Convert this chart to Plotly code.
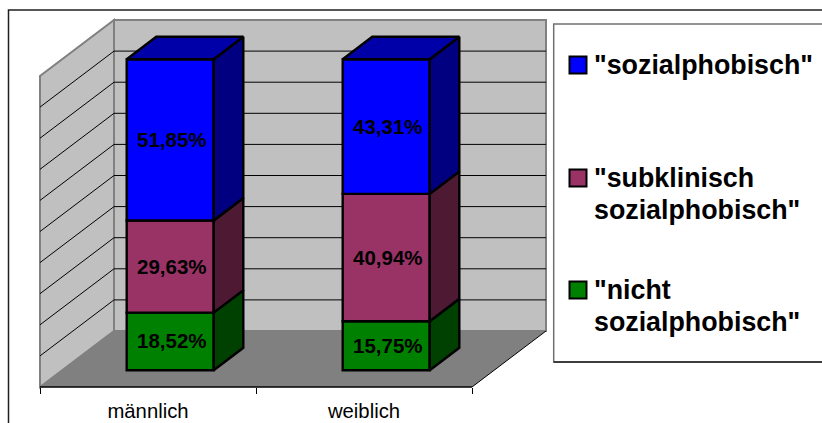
import plotly.graph_objects as go

# Survey shares per gender, stacked bottom to top
categories = ["männlich", "weiblich"]
nicht = [18.52, 15.75]
subklinisch = [29.63, 40.94]
sozial = [51.85, 43.31]

series_values = [nicht, subklinisch, sozial]
front_colors = ["#008000", "#993366", "#0000FF"]
side_colors = ["#004000", "#4D1933", "#000080"]
top_color = "#0000A8"

legend_colors = ["#0000FF", "#993366", "#008000"]
legend_lines = [['"sozialphobisch"'],
                ['"subklinisch', 'sozialphobisch"'],
                ['"nicht', 'sozialphobisch"']]

W, H = 822, 423
# Pixel size of one category and one percent, and position of the front floor corner
CAT_PX, PCT_PX = 216.0, 3.11
ORIGIN_X, ORIGIN_Y = 40.0, 387.0
# Full oblique depth of the chart box, in axis units
DEPTH_X, DEPTH_Y = 74.0 / CAT_PX, 56.0 / PCT_PX
BAR_FRONT, BAR_BACK = 0.3, 0.7
BAR_WIDTH = 87.0 / CAT_PX
BAR_LINE = 2.4


def project(x, y, depth=0.0):
    """Oblique projection of a (category, percent, depth) point on the 2D axes."""
    return x + depth * DEPTH_X, y + depth * DEPTH_Y


def path(points):
    pts = [project(*p) for p in points]
    return "M " + " L ".join(f"{x:.4f},{y:.4f}" for x, y in pts) + " Z"


def polygon(points, fill, line_color=None, width=0):
    return dict(type="path", path=path(points), xref="x", yref="y", layer="below",
                fillcolor=fill, line=dict(color=line_color or fill, width=width))


def segment(p0, p1, color="#000000", width=1.0):
    x0, y0 = project(*p0)
    x1, y1 = project(*p1)
    return dict(type="line", x0=x0, y0=y0, x1=x1, y1=y1, xref="x", yref="y",
                layer="below", line=dict(color=color, width=width))


def px_rect(x0, y0, x1, y1, **kw):
    return dict(type="rect", xref="paper", yref="paper",
                x0=x0 / W, x1=x1 / W, y0=1 - y0 / H, y1=1 - y1 / H, **kw)


n_cat = len(categories)
WALL, FLOOR, EDGE = "#C0C0C0", "#808080", "#808080"
shapes = [
    # Chart frame and legend box run past the right and lower page edges
    px_rect(8.5, 10, 860, 470, line=dict(color="#202020", width=1.5), layer="below"),
    # Walls and floor of the 3D box
    polygon([(0, 0, 0), (0, 100, 0), (0, 100, 1), (0, 0, 1)], WALL, EDGE, 2),
    polygon([(0, 0, 1), (0, 100, 1), (n_cat, 100, 1), (n_cat, 0, 1)], WALL, EDGE, 2),
    polygon([(0, 0, 0), (n_cat, 0, 0), (n_cat, 0, 1), (0, 0, 1)], FLOOR),
]
for level in range(10, 100, 10):
    shapes.append(segment((0, level, 0), (0, level, 1)))
    shapes.append(segment((0, level, 1), (n_cat, level, 1)))
shapes.append(segment((0, 0, 0), (n_cat, 0, 0), "#000000", 1.5))
shapes.append(segment((n_cat, 0, 0), (n_cat, 0, 1), "#000000", 1))

fig = go.Figure()
annotations = []

# Front faces as stacked bars; depth faces as projected polygons on the same axes
centers = [project(i + 0.5, 0, BAR_FRONT)[0] for i in range(n_cat)]
bases = [0.0] * n_cat
for values, front, side in zip(series_values, front_colors, side_colors):
    fig.add_trace(go.Bar(
        x=centers, y=values,
        base=[project(0, b, BAR_FRONT)[1] for b in bases],
        width=BAR_WIDTH,
        marker=dict(color=front, line=dict(color="#000000", width=BAR_LINE)),
        hoverinfo="skip", showlegend=False,
    ))
    for i, (base, val) in enumerate(zip(bases, values)):
        right = i + 0.5 + BAR_WIDTH / 2
        corners = [(right, base, BAR_FRONT), (right, base + val, BAR_FRONT),
                   (right, base + val, BAR_BACK), (right, base, BAR_BACK),
                   (right, base, BAR_FRONT)]
        xs, ys = zip(*[project(*c) for c in corners])
        fig.add_trace(go.Scatter(x=xs, y=ys, mode="lines", fill="toself", fillcolor=side,
                                 line=dict(color="#000000", width=BAR_LINE),
                                 hoverinfo="skip", showlegend=False))
        # Value label centred on the front face of its segment
        lx, ly = project(i + 0.5, base + val / 2, BAR_FRONT)
        annotations.append(dict(
            text=f"<b>{val:.2f}%</b>".replace(".", ","), x=lx, y=ly, xref="x", yref="y",
            showarrow=False, xanchor="center", yanchor="middle", xshift=1.5, yshift=0.5,
            font=dict(family="Liberation Sans", size=20.5, color="#000000"),
        ))
    bases = [b + v for b, v in zip(bases, values)]

# Lid of each stack
for i, total in enumerate(bases):
    left, right = i + 0.5 - BAR_WIDTH / 2, i + 0.5 + BAR_WIDTH / 2
    corners = [(left, total, BAR_FRONT), (right, total, BAR_FRONT),
               (right, total, BAR_BACK), (left, total, BAR_BACK),
               (left, total, BAR_FRONT)]
    xs, ys = zip(*[project(*c) for c in corners])
    fig.add_trace(go.Scatter(x=xs, y=ys, mode="lines", fill="toself", fillcolor=top_color,
                             line=dict(color="#000000", width=BAR_LINE),
                             hoverinfo="skip", showlegend=False))

# Legend box, swatches and text lines
shapes.append(px_rect(553.7, 24, 860, 362, fillcolor="#FFFFFF",
                      line=dict(color="#707070", width=1.5), layer="below"))
shapes.append(dict(type="line", xref="paper", yref="paper", x0=553.7 / W, x1=1,
                   y0=1 - 362 / H, y1=1 - 362 / H, line=dict(color="#202020", width=1.5)))
swatch_tops = [56.5, 169.5, 281.5]
LINE_STEP = 32.0
for color, lines, top in zip(legend_colors, legend_lines, swatch_tops):
    shapes.append(px_rect(569.5, top, 586.5, top + 17, fillcolor=color,
                          line=dict(color="#000000", width=2)))
    for j, text in enumerate(lines):
        annotations.append(dict(
            text=f"<b>{text}</b>", xref="paper", yref="paper", showarrow=False,
            x=591.5 / W, y=1 - (top + 8.5 + j * LINE_STEP) / H,
            xanchor="left", yanchor="middle",
            font=dict(family="Liberation Sans", size=26.8, color="#000000"),
        ))

fig.update_layout(
    width=W, height=H, margin=dict(l=0, r=0, t=0, b=0), autosize=False,
    paper_bgcolor="#FFFFFF", plot_bgcolor="rgba(0,0,0,0)",
    barmode="overlay", showlegend=False, shapes=shapes, annotations=annotations,
    xaxis=dict(
        range=[-ORIGIN_X / CAT_PX, (W - ORIGIN_X) / CAT_PX],
        anchor="free", position=1 - ORIGIN_Y / H, automargin=False,
        tickmode="array", tickvals=[i + 0.5 for i in range(n_cat)], ticktext=categories,
        ticks="outside", ticklen=0, tickcolor="rgba(0,0,0,0)",
        minor=dict(tickmode="array", tickvals=list(range(n_cat + 1)), ticks="outside",
                   ticklen=6, tickcolor="#000000", tickwidth=1, showgrid=False),
        tickfont=dict(family="Liberation Sans", size=20.3, color="#000000"),
        ticklabelstandoff=6,
        showgrid=False, zeroline=False, showline=False, fixedrange=True,
    ),
    yaxis=dict(
        range=[-(H - ORIGIN_Y) / PCT_PX, ORIGIN_Y / PCT_PX], automargin=False,
        visible=False, showgrid=False, zeroline=False, fixedrange=True,
    ),
)

fig.write_html("out.html", config=dict(displayModeBar=False))
